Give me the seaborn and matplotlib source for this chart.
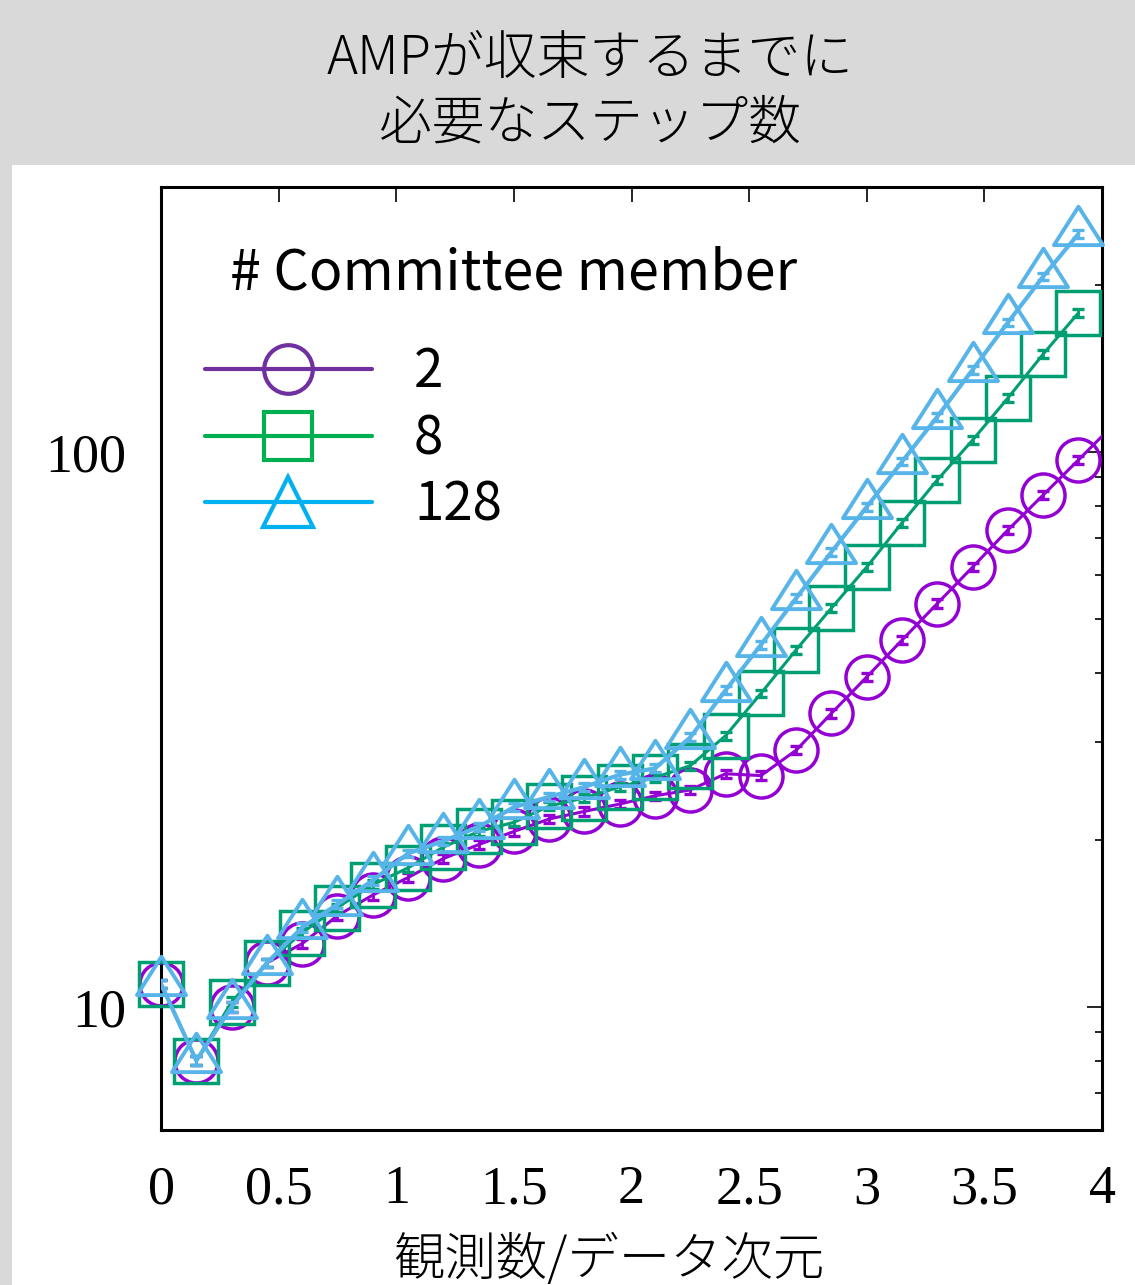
import numpy as np
import pandas as pd
import matplotlib
matplotlib.use("Agg")
import matplotlib.pyplot as plt
from matplotlib.lines import Line2D
from matplotlib.patches import Rectangle
from matplotlib.path import Path
from matplotlib.ticker import LogLocator, NullFormatter
import seaborn as sns

# ---- data -------------------------------------------------------------
ratio = [0.0, 0.15, 0.3, 0.45, 0.6, 0.75, 0.9, 1.05, 1.2, 1.35, 1.5, 1.65, 1.8,
         1.95, 2.1, 2.25, 2.4, 2.55, 2.7, 2.85, 3.0, 3.15, 3.3, 3.45, 3.6,
         3.75, 3.9]
ratio_m2 = ratio + [4.05]

steps_m2 = [11.0, 8.0, 10.0, 12.0, 13.0, 14.6, 15.9, 17.1, 18.5, 19.6, 20.7,
            21.8, 22.5, 23.2, 24.0, 24.6, 26.3, 26.1, 29.0, 33.8, 39.3, 45.8,
            53.3, 62.0, 72.3, 83.6, 96.7, 112.0]
err_m2 = [0.2, 0.15, 0.2, 0.2, 0.25, 0.25, 0.3, 0.3, 0.35, 0.35, 0.35, 0.4,
          0.4, 0.4, 0.4, 0.45, 0.45, 0.45, 0.5, 0.6, 0.7, 0.8, 0.9, 1.1, 1.3,
          1.5, 1.7, 2.0]

steps_m8 = [11.0, 8.0, 10.2, 12.0, 13.6, 15.1, 16.6, 17.8, 19.4, 20.7, 21.5,
            23.0, 23.8, 24.9, 25.9, 27.2, 30.8, 36.7, 44.0, 52.3, 62.0, 74.5,
            89.0, 105.0, 125.0, 150.0, 178.0]
err_m8 = [0.2, 0.15, 0.2, 0.2, 0.25, 0.25, 0.3, 0.3, 0.35, 0.35, 0.35, 0.4,
          0.4, 0.4, 0.45, 0.45, 0.5, 0.6, 0.7, 0.8, 1.0, 1.2, 1.4, 1.7, 2.0,
          2.4, 2.8]

steps_m128 = [11.0, 8.0, 10.0, 12.0, 13.9, 15.3, 16.9, 18.9, 19.9, 21.1, 22.9,
              23.9, 24.9, 26.2, 26.9, 30.6, 37.2, 44.9, 54.5, 66.0, 79.6, 96.0,
              115.7, 140.6, 171.0, 207.0, 247.0]
err_m128 = [0.2, 0.15, 0.2, 0.2, 0.25, 0.25, 0.3, 0.3, 0.35, 0.35, 0.4, 0.4,
            0.4, 0.45, 0.45, 0.5, 0.6, 0.7, 0.9, 1.1, 1.3, 1.5, 1.9, 2.3, 2.8,
            3.3, 4.0]

member_labels = ["2", "8", "128"]
x_tick_values = [0, 0.5, 1, 1.5, 2, 2.5, 3, 3.5, 4]
x_tick_labels = ["0", "0.5", "1", "1.5", "2", "2.5", "3", "3.5", "4"]
y_tick_values = [10, 100]
y_tick_labels = ["10", "100"]

title_text = "AMPが収束するまでに\n必要なステップ数"
xlabel_text = "観測数/データ次元"
legend_title = "# Committee member"

# ---- style ------------------------------------------------------------
sns.set_theme(style="white")
plt.rcParams["font.family"] = ["Noto Sans CJK JP", "DejaVu Sans"]
plt.rcParams["axes.edgecolor"] = "black"
plt.rcParams["text.color"] = "black"

line_colors = ["#9400D3", "#009E73", "#56B4E9"]
legend_colors = ["#7030A0", "#00B050", "#00B0F0"]

# triangle whose reference point sits near its centroid
tri_marker = Path([(0, 0.68), (-0.6, -0.26), (0.6, -0.26), (0, 0.68)],
                  closed=True)

series = [
    dict(x=ratio_m2, y=steps_m2, e=err_m2, marker="o", ms=31, lw=2.2, mew=2.5),
    dict(x=ratio, y=steps_m8, e=err_m8, marker="s", ms=31, lw=2.2, mew=2.5),
    dict(x=ratio, y=steps_m128, e=err_m128, marker=tri_marker, ms=40, lw=3.0,
         mew=2.8),
]

fig = plt.figure(figsize=(11.35, 12.85), dpi=100, facecolor="#d9d9d9")
fig.patches.append(Rectangle((12 / 1135, 0), 1 - 12 / 1135, 1120 / 1285,
                             transform=fig.transFigure, facecolor="white",
                             edgecolor="none", zorder=-5))
ax = fig.add_axes([161 / 1135, 155 / 1285, 941 / 1135, 943 / 1285])
ax.set_facecolor("white")

x_lo, x_hi = 0, 4
for i, (s, color) in enumerate(zip(series, line_colors)):
    df = pd.DataFrame({"ratio": s["x"], "steps": s["y"], "err": s["e"]})
    # connecting line, clipped at the frame
    sns.lineplot(data=df, x="ratio", y="steps", ax=ax, color=color,
                 lw=s["lw"], zorder=3 + 3 * i, legend=False)
    # open markers for the points inside the x range, drawn unclipped
    inside = df[(df["ratio"] >= x_lo) & (df["ratio"] <= x_hi)]
    sns.lineplot(data=inside, x="ratio", y="steps", ax=ax, color=color,
                 linestyle="", marker=s["marker"], ms=s["ms"], mew=s["mew"],
                 mec=color, mfc="none", zorder=4 + 3 * i, legend=False,
                 clip_on=False)
    ax.errorbar(inside["ratio"], inside["steps"], yerr=inside["err"],
                fmt="none", ecolor=color, elinewidth=2.0, capsize=4.4,
                capthick=2.4, zorder=5 + 3 * i)

ax.set_yscale("log")
ax.set_xlim(x_lo, x_hi)
ax.set_ylim(6, 300)
ax.set_xticks(x_tick_values)
ax.set_xticklabels(x_tick_labels)
ax.set_yticks(y_tick_values)
ax.set_yticklabels(y_tick_labels)
ax.yaxis.set_minor_locator(LogLocator(base=10, subs=np.arange(2, 10)))
ax.yaxis.set_minor_formatter(NullFormatter())
ax.set_xlabel("")
ax.set_ylabel("")

ax.tick_params(which="both", direction="in", top=True, right=True,
               color="black", width=1.2)
ax.tick_params(which="major", length=11)
ax.tick_params(which="minor", length=5)
ax.tick_params(axis="x", which="major", pad=25)
ax.tick_params(axis="y", which="major", pad=25)
for lab in ax.get_xticklabels() + ax.get_yticklabels():
    lab.set_fontfamily("Liberation Serif")
    lab.set_fontsize(39)
    lab.set_color("black")
for sp in ax.spines.values():
    sp.set_linewidth(2.2)
    sp.set_color("black")

# legend
handles = [
    Line2D([], [], color=legend_colors[0], lw=3, marker="o", ms=35, mew=3,
           mfc="none", mec=legend_colors[0]),
    Line2D([], [], color=legend_colors[1], lw=3, marker="s", ms=34, mew=3,
           mfc="none", mec=legend_colors[1]),
    Line2D([], [], color=legend_colors[2], lw=3, marker="^", ms=36, mew=3,
           mfc="none", mec=legend_colors[2]),
]
leg = ax.legend(handles, member_labels, loc="upper left",
                bbox_to_anchor=(0.0468, 0.833), frameon=False, borderpad=0,
                borderaxespad=0, handlelength=3.16, handletextpad=0.8,
                labelspacing=0.22, labelcolor="black",
                prop={"family": "Noto Sans CJK JP", "size": 38})
leg.set_zorder(20)
ax.text(0.0733, 0.891, legend_title, transform=ax.transAxes, ha="left",
        va="baseline", fontsize=40, color="black",
        family=["Noto Sans CJK JP", "DejaVu Sans"])

fig.text(0.52, 0.929, title_text, ha="center", va="center", fontsize=38,
         fontweight="light", linespacing=1.22, color="black")
fig.text(0.536, 0.019, xlabel_text, ha="center", va="center", fontsize=37,
         fontweight="light", color="black")

fig.savefig("out.png", dpi=100, facecolor=fig.get_facecolor())
